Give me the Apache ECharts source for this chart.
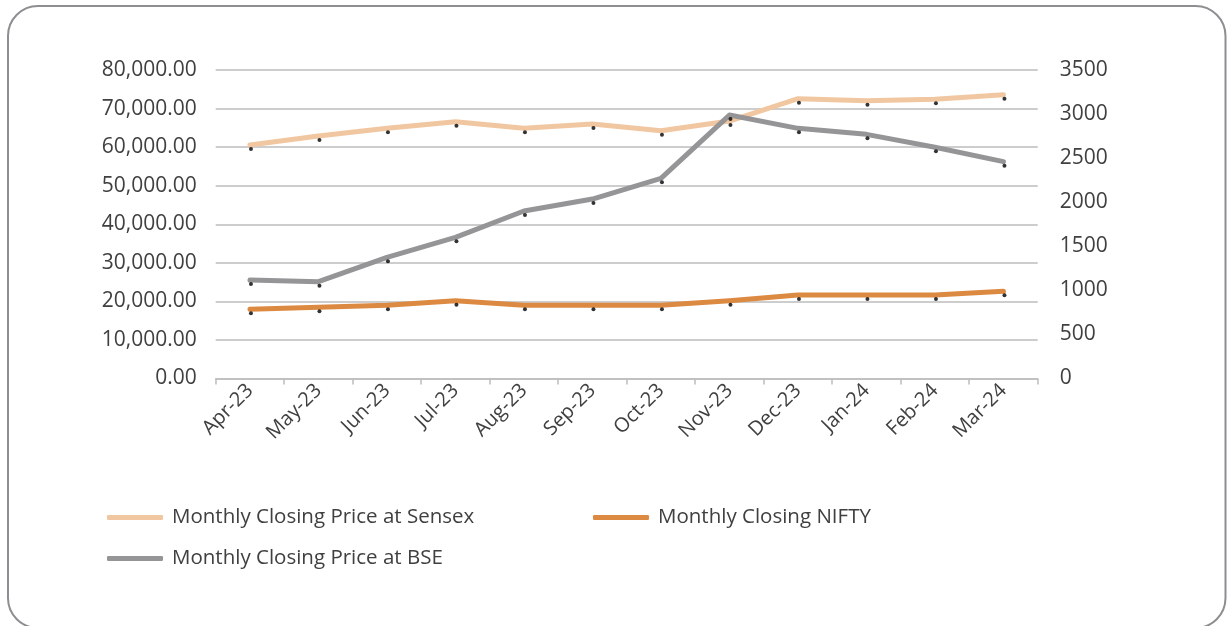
<!DOCTYPE html>
<html>
<head>
<meta charset="utf-8">
<script src="https://cdn.jsdelivr.net/npm/echarts@6/dist/echarts.min.js"></script>
<style>
  html, body { margin: 0; padding: 0; background: #fff; }
  #chart { width: 1227px; height: 626px; }
</style>
</head>
<body>
<div id="chart"></div>
<script>
// Monthly closing values, FY 2023-24
const months = ['Apr-23', 'May-23', 'Jun-23', 'Jul-23', 'Aug-23', 'Sep-23', 'Oct-23', 'Nov-23', 'Dec-23', 'Jan-24', 'Feb-24', 'Mar-24'];
const sensex = [60550, 62880, 64880, 66590, 64880, 65990, 64260, 66770, 72550, 72030, 72400, 73590];
const nifty  = [17940, 18460, 18980, 20170, 18980, 18980, 18980, 20170, 21650, 21650, 21650, 22610];
const bse    = [1117, 1098, 1375, 1602, 1900, 2036, 2271, 2989, 2838, 2770, 2623, 2460];

const names = ['Monthly Closing Price at Sensex', 'Monthly Closing NIFTY', 'Monthly Closing Price at BSE'];
const colors = ['#F1C7A1', '#DC8A42', '#959597'];

const FONT = 'Open Sans';
const TEXT = '#404040';
const GRID = '#BDBDBD';

function lineSeries(name, data, color, yIdx) {
  return {
    name: name, type: 'line', data: data, yAxisIndex: yIdx,
    showSymbol: false, symbol: 'none',
    lineStyle: { color: color, width: 5, cap: 'round', join: 'round' },
    itemStyle: { color: color },
    z: 2, animation: false
  };
}
function dotSeries(data, yIdx) {
  return {
    type: 'scatter', data: data, yAxisIndex: yIdx,
    symbol: 'circle', symbolSize: 4, symbolOffset: [1, 4],
    itemStyle: { color: '#000' }, z: 3, silent: true, animation: false
  };
}
function legendItem(name, left, top) {
  return {
    data: [name], left: left, top: top, orient: 'horizontal', padding: 0,
    icon: 'roundRect', itemWidth: 56, itemHeight: 5,
    textStyle: { fontFamily: FONT, fontSize: 20.5, color: TEXT, padding: [0, 0, 0, 4] },
    selectedMode: false
  };
}

const chart = echarts.init(document.getElementById('chart'), null, { renderer: 'canvas' });
chart.setOption({
  animation: false,
  backgroundColor: '#fff',
  graphic: [{
    type: 'rect', silent: true,
    shape: { x: 8, y: 6, width: 1217.5, height: 622, r: 30 },
    style: { fill: 'none', stroke: '#8E8E92', lineWidth: 2 }
  }],
  grid: { left: 215.7, right: 189.3, top: 70, bottom: 247.5, containLabel: false },
  legend: [
    legendItem(names[0], 107, 507),
    legendItem(names[1], 593, 507),
    legendItem(names[2], 107, 548)
  ],
  xAxis: {
    type: 'category', data: months, boundaryGap: true,
    axisLine: { lineStyle: { color: GRID, width: 1.5 } },
    axisTick: { show: true, length: 6, lineStyle: { color: GRID, width: 1.5 } },
    axisLabel: { rotate: 45, fontFamily: FONT, fontSize: 20, color: TEXT, margin: 9, interval: 0 }
  },
  yAxis: [{
    type: 'value', min: 0, max: 80000, interval: 10000,
    axisLine: { show: false }, axisTick: { show: false },
    splitLine: { lineStyle: { color: GRID, width: 1.5 } },
    axisLabel: {
      fontFamily: FONT, fontSize: 21, color: TEXT, margin: 19,
      formatter: v => v.toLocaleString('en-US', { minimumFractionDigits: 2, maximumFractionDigits: 2 })
    }
  }, {
    type: 'value', min: 0, max: 3500, interval: 500,
    axisLine: { show: false }, axisTick: { show: false },
    splitLine: { show: false },
    axisLabel: { fontFamily: FONT, fontSize: 21, color: TEXT, margin: 22, formatter: v => String(v) }
  }],
  series: [
    lineSeries(names[0], sensex, colors[0], 0),
    lineSeries(names[1], nifty, colors[1], 0),
    lineSeries(names[2], bse, colors[2], 1),
    dotSeries(sensex, 0),
    dotSeries(nifty, 0),
    dotSeries(bse, 1)
  ]
});
</script>
</body>
</html>
